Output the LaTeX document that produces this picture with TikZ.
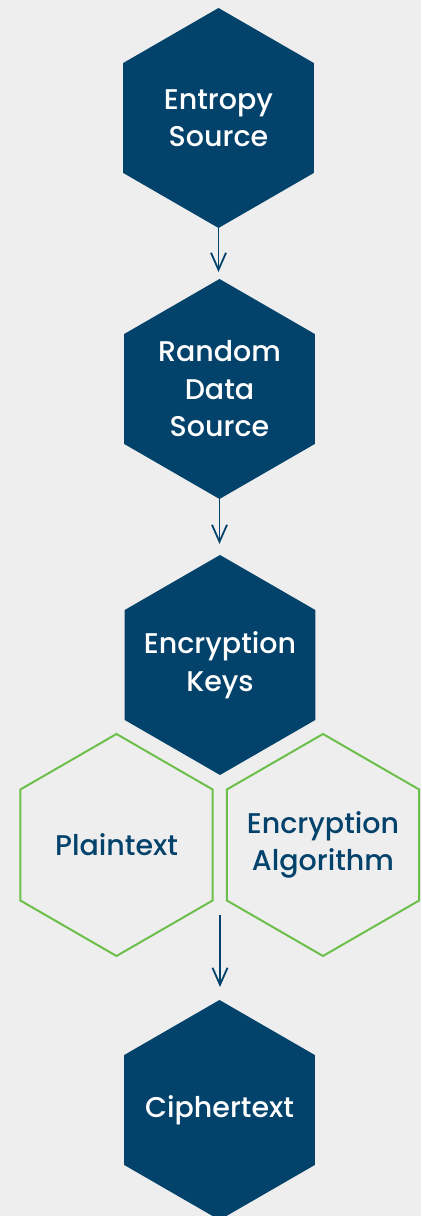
\documentclass[tikz,border=0pt]{standalone}
\usepackage{fontspec}
\setmainfont{Poppins}[UprightFont=* Medium]
\usetikzlibrary{shapes.geometric,arrows.meta}
\definecolor{navy}{HTML}{02426B}
\definecolor{leaf}{HTML}{6CBF4A}
\definecolor{paper}{HTML}{EEEEEE}
\tikzset{
  hexbase/.style={regular polygon, regular polygon sides=6, shape border rotate=30,
    minimum size=220pt, inner sep=0pt, outer sep=0pt},
  hexlabel/.style={align=center, inner sep=0pt, font=\fontsize{28.5}{37.5}\selectfont},
  solidhex/.style={hexbase, fill=navy, label={[hexlabel, text=white]center:{#1}}},
  outlinehex/.style={hexbase, draw=leaf, line width=2pt, minimum size=222pt,
    label={[hexlabel, text=navy]center:{#1}}},
  flow/.style={draw=navy, line width=1.8pt, -{Straight Barb[length=17pt,width=15pt,line width=1.8pt]}}
}
\begin{document}
\begin{tikzpicture}[x=1pt,y=1pt]
  \fill[paper] (0,0) rectangle (421,1216);
  \useasboundingbox (0,0) rectangle (421,1216);

  \node[solidhex={Entropy\\Source}] (entropy) at (218.5,1098) {};
  \node[solidhex={Random\\Data\\Source}] (random) at (219.5,827) {};
  \node[solidhex={Encryption\\Keys}] (keys) at (220,551) {};
  \node[outlinehex={Plaintext}] (plain) at (116.5,371) {};
  \node[outlinehex={Encryption\\Algorithm}] (algo) at (323,371) {};
  \node[solidhex={Ciphertext}] (cipher) at (219.5,106) {};

  \coordinate (merge) at (220,301);

  \draw[flow, shorten >=7pt] (entropy.corner 4) -- (entropy.corner 4 |- random.corner 1);
  \draw[flow, shorten >=11pt] (random.corner 4) -- (random.corner 4 |- keys.corner 1);
  \draw[flow, shorten >=13pt] (merge) -- (merge |- cipher.corner 1);
\end{tikzpicture}
\end{document}
